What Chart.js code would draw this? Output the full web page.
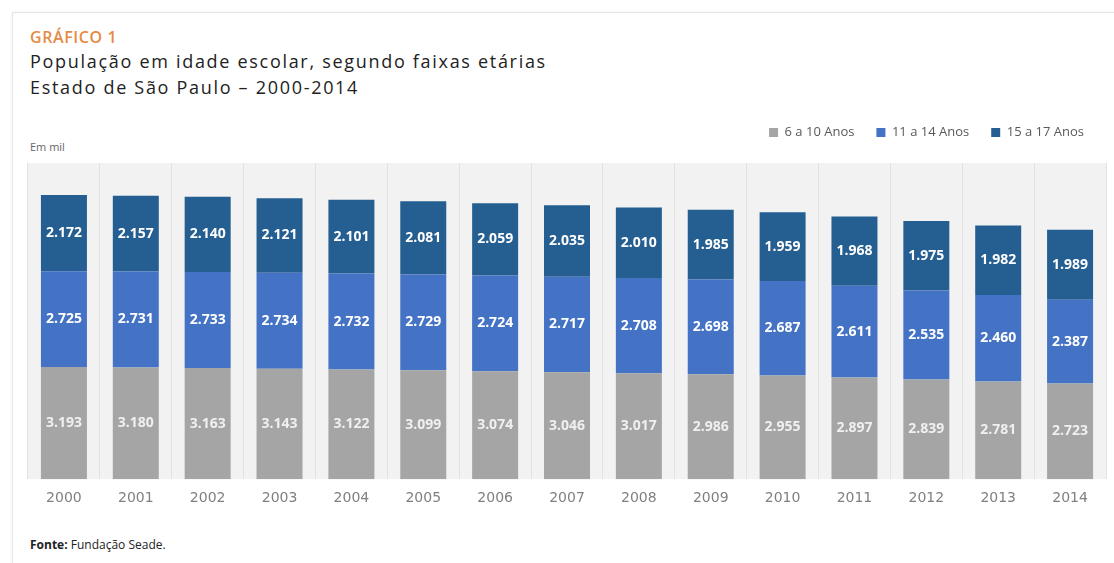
<!DOCTYPE html>
<html>
<head>
<meta charset="utf-8">
<script src="https://cdn.jsdelivr.net/npm/chart.js@4"></script>
<style>
  body { margin: 0; background: #fff; font-family: "Open Sans", sans-serif; }
  #card { position: absolute; left: 12px; top: 12px; width: 1120px; height: 560px; border: 1px solid #e6e6e6; box-shadow: 0 0 3px #eee; }
  #kicker { position: absolute; left: 30px; top: 26px; color: #e58a44; font-weight: 600; font-size: 16px; letter-spacing: 0.6px; }
  .sub { position: absolute; left: 30px; font-size: 18px; color: #222; letter-spacing: 1.7px; }
  #unit { position: absolute; left: 30px; top: 139px; font-size: 11px; color: #666; }
  #source { position: absolute; left: 30px; top: 536px; font-size: 12px; color: #222; }
  #wrap { position: absolute; left: 12px; top: 104px; width: 1102px; height: 414px; }
</style>
</head>
<body>
<div id="card"></div>
<div id="kicker">GRÁFICO 1</div>
<div class="sub" style="top:49px">População em idade escolar, segundo faixas etárias</div>
<div class="sub" style="top:75px">Estado de São Paulo – 2000-2014</div>
<div id="unit">Em mil</div>
<div id="wrap"><canvas id="chart"></canvas></div>
<div id="source"><b>Fonte:</b> Fundação Seade.</div>
<script>
// Anos e valores (em mil)
const years = ['2000', '2001', '2002', '2003', '2004', '2005', '2006', '2007', '2008', '2009', '2010', '2011', '2012', '2013', '2014'];
const age6to10 = [3193, 3180, 3163, 3143, 3122, 3099, 3074, 3046, 3017, 2986, 2955, 2897, 2839, 2781, 2723];
const age11to14 = [2725, 2731, 2733, 2734, 2732, 2729, 2724, 2717, 2708, 2698, 2687, 2611, 2535, 2460, 2387];
const age15to17 = [2172, 2157, 2140, 2121, 2101, 2081, 2059, 2035, 2010, 1985, 1959, 1968, 1975, 1982, 1989];

function fmt(v) {
    return (v / 1000).toFixed(3); // 3193 -> "3.193"
}

// background of the plot area
const plotBg = {
    id: 'plotBg',
    beforeDraw(chart) {
        const a = chart.chartArea;
        const ctx = chart.ctx;
        ctx.save();
        ctx.fillStyle = '#f2f2f2';
        ctx.fillRect(a.left, a.top, a.right - a.left, a.bottom - a.top);
        ctx.restore();
    }
};

// extra room under the legend
const legendGap = {
    id: 'legendGap',
    beforeInit(chart) {
        const fit = chart.legend.fit;
        chart.legend.fit = function() {
            fit.bind(chart.legend)();
            this.height += 14;
        };
    }
};

// value labels inside each segment
const segLabels = {
    id: 'segLabels',
    afterDatasetsDraw(chart) {
        const ctx = chart.ctx;
        ctx.save();
        ctx.font = 'bold 14px "Open Sans", sans-serif';
        ctx.textAlign = 'center';
        ctx.textBaseline = 'middle';
        chart.data.datasets.forEach((ds, i) => {
            const meta = chart.getDatasetMeta(i);
            meta.data.forEach((bar, j) => {
                ctx.fillStyle = i === 0 ? '#f0f0f0' : '#ffffff';
                const mid = (bar.y + bar.base) / 2;
                ctx.fillText(fmt(ds.data[j]), bar.x, mid);
            });
        });
        ctx.restore();
    }
};

const ctx = document.getElementById('chart').getContext('2d');
new Chart(ctx, {
    type: 'bar',
    data: {
        labels: years,
        datasets: [
            { label: '6 a 10 Anos', data: age6to10, backgroundColor: '#a5a5a5' },
            { label: '11 a 14 Anos', data: age11to14, backgroundColor: '#4472c4' },
            { label: '15 a 17 Anos', data: age15to17, backgroundColor: '#255e91' }
        ]
    },
    options: {
        responsive: true,
        maintainAspectRatio: false,
        animation: false,
        layout: { padding: { left: 16, right: 8, top: 0, bottom: 0 } },
        datasets: { bar: { categoryPercentage: 0.64, barPercentage: 1 } },
        plugins: {
            legend: {
                position: 'top',
                align: 'end',
                labels: {
                    boxWidth: 9,
                    boxHeight: 9,
                    color: '#595959',
                    font: { family: 'Open Sans', size: 13 },
                    padding: 22
                }
            },
            tooltip: { enabled: false }
        },
        scales: {
            x: {
                stacked: true,
                grid: { display: true, offset: true, color: '#e2e2e2', drawTicks: false },
                border: { display: false },
                ticks: {
                    color: '#808080',
                    font: { family: 'DejaVu Sans', size: 14 },
                    padding: 11
                }
            },
            y: {
                stacked: true,
                display: false,
                min: 0,
                max: 9000
            }
        }
    },
    plugins: [plotBg, legendGap, segLabels]
});
</script>
</body>
</html>
